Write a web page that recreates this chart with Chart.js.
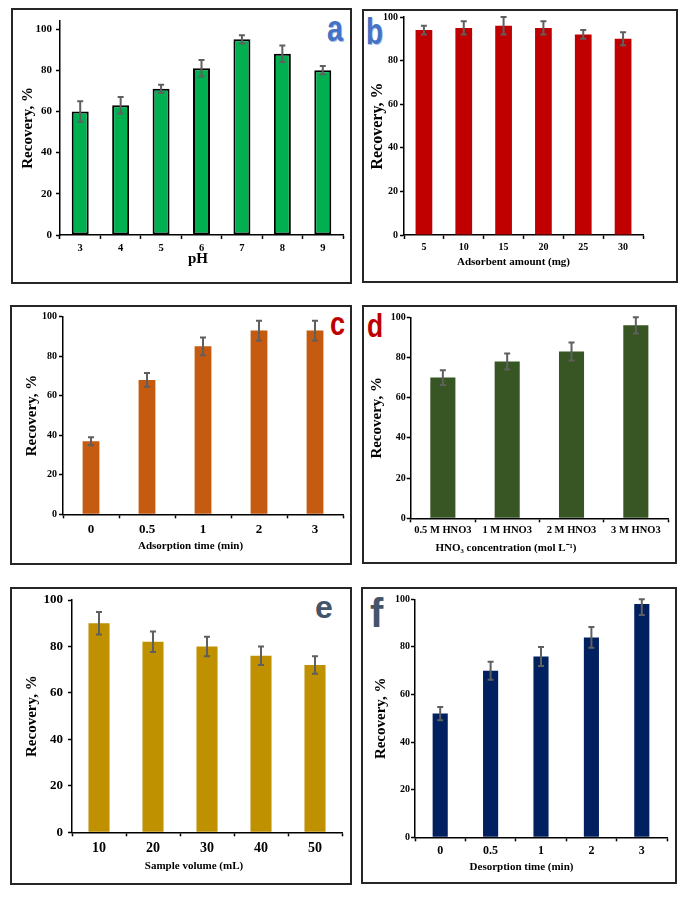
<!DOCTYPE html>
<html>
<head>
<meta charset="utf-8">
<title>Recovery optimisation</title>
<script src="https://cdn.jsdelivr.net/npm/chart.js@4.4.1/dist/chart.umd.min.js"></script>
<style>
    html, body { margin: 0; padding: 0; background: #fff; }
    body { position: relative; width: 690px; height: 898px; overflow: hidden; }
    canvas { position: absolute; }
    .tag {
        position: absolute;
        font-family: 'Liberation Sans', Arial, sans-serif;
        font-weight: bold;
        line-height: 1;
        transform-origin: 0 0;
        white-space: nowrap;
    }
</style>
</head>
<body>
<div class="tag" style="left:327px; top:11px; font-size:36px; color:#4472c4; transform:scaleX(0.8); text-shadow:1px 1px 0 #a9c0ea;">a</div>
<div class="tag" style="left:366px; top:13px; font-size:37px; color:#4472c4; transform:scaleX(0.75); text-shadow:1px 1px 0 #a9c0ea;">b</div>
<div class="tag" style="left:330px; top:307px; font-size:33px; color:#c00000; transform:scaleX(0.82);">c</div>
<div class="tag" style="left:367px; top:309px; font-size:33px; color:#c00000; transform:scaleX(0.8);">d</div>
<div class="tag" style="left:315px; top:591px; font-size:32px; color:#44546a;">e</div>
<div class="tag" style="left:370px; top:593px; font-size:40px; color:#44546a;">f</div>

<script>
// data (recovery %, error = half bar length)
const recoveryTicks = [0, 20, 40, 60, 80, 100];

const phLabels = ['3', '4', '5', '6', '7', '8', '9'];
const phRecovery = [60, 63, 71, 81, 95, 88, 80];
const phError = [5, 4, 2, 4, 2, 4, 2];

const amountLabels = ['5', '10', '15', '20', '25', '30'];
const amountRecovery = [94, 95, 96, 95, 92, 90];
const amountError = [2, 3, 4, 3, 2, 3];

const adsTimeLabels = ['0', '0.5', '1', '2', '3'];
const adsTimeRecovery = [37, 68, 85, 93, 93];
const adsTimeError = [2, 3.5, 4.5, 5, 5];

const acidLabels = ['0.5 M HNO3', '1 M HNO3', '2 M HNO3', '3 M HNO3'];
const acidRecovery = [70, 78, 83, 96];
const acidError = [3.7, 4, 4.5, 4];

const volumeLabels = ['10', '20', '30', '40', '50'];
const volumeRecovery = [90, 82, 80, 76, 72];
const volumeError = [4.8, 4.4, 4.2, 4, 3.8];

const desTimeLabels = ['0', '0.5', '1', '2', '3'];
const desTimeRecovery = [52, 70, 76, 84, 98];
const desTimeError = [2.8, 3.8, 4, 4.4, 4.6];

const serif = "'Liberation Serif', 'Times New Roman', serif";

// error bars drawn on top of the bars
const errorBarPlugin = {
    id: 'errorBars',
    afterDatasetsDraw(chart, args, opts) {
        const ctx = chart.ctx;
        const y = chart.scales.y;
        const values = chart.data.datasets[0].data;
        ctx.save();
        ctx.strokeStyle = '#5f5f5f';
        ctx.lineWidth = 2;
        chart.getDatasetMeta(0).data.forEach(function (bar, i) {
            const hi = y.getPixelForValue(Math.min(values[i] + opts.errors[i], y.max));
            const lo = y.getPixelForValue(values[i] - opts.errors[i]);
            ctx.beginPath();
            ctx.moveTo(bar.x, hi);
            ctx.lineTo(bar.x, lo);
            ctx.moveTo(bar.x - 3, hi);
            ctx.lineTo(bar.x + 3, hi);
            ctx.moveTo(bar.x - 3, lo);
            ctx.lineTo(bar.x + 3, lo);
            ctx.stroke();
        });
        ctx.restore();
    }
};

// x axis title, placed where the original has it
const xTitlePlugin = {
    id: 'xTitle',
    afterDraw(chart, args, opts) {
        const ctx = chart.ctx;
        ctx.save();
        ctx.fillStyle = '#000';
        ctx.font = 'bold ' + opts.size + 'px ' + serif;
        ctx.textAlign = 'center';
        ctx.textBaseline = 'middle';
        ctx.fillText(opts.text, opts.x, opts.y);
        ctx.restore();
    }
};

// panel frame
const framePlugin = {
    id: 'frame',
    afterDraw(chart) {
        const ctx = chart.ctx;
        ctx.save();
        ctx.strokeStyle = '#262626';
        ctx.lineWidth = 2;
        ctx.strokeRect(1, 1, chart.width - 2, chart.height - 2);
        ctx.restore();
    }
};

function drawPanel(p) {
    const canvas = document.createElement('canvas');
    canvas.width = p.box.w;
    canvas.height = p.box.h;
    canvas.style.left = p.box.x + 'px';
    canvas.style.top = p.box.y + 'px';
    document.body.appendChild(canvas);

    const axisWidth = p.plot.l - p.box.x;
    const axisHeight = p.box.y + p.box.h - p.plot.b;

    return new Chart(canvas, {
        type: 'bar',
        data: {
            labels: p.labels,
            datasets: [{
                data: p.values,
                backgroundColor: p.color,
                borderColor: p.edge || p.color,
                borderWidth: p.edge ? 2 : 0,
                borderSkipped: false,
                barPercentage: p.barPct,
                categoryPercentage: 1
            }]
        },
        options: {
            responsive: false,
            animation: false,
            events: [],
            layout: {
                padding: {
                    left: 0,
                    top: p.plot.t - p.box.y,
                    right: p.box.x + p.box.w - p.plot.r,
                    bottom: 0
                }
            },
            plugins: {
                legend: { display: false },
                tooltip: { enabled: false },
                errorBars: { errors: p.errors },
                xTitle: {
                    text: p.xTitle,
                    size: p.xTitleSize,
                    x: p.xTitleAt[0] - p.box.x,
                    y: p.xTitleAt[1] - p.box.y
                }
            },
            scales: {
                x: {
                    border: { color: '#000', width: 1.5 },
                    grid: {
                        offset: true,
                        drawOnChartArea: false,
                        tickLength: 4,
                        tickColor: '#000',
                        tickWidth: 1.5
                    },
                    ticks: {
                        color: '#000',
                        autoSkip: false,
                        maxRotation: 0,
                        padding: p.xPad,
                        font: { family: serif, weight: 'bold', size: p.xFont }
                    },
                    afterFit: function (scale) { scale.height = axisHeight; }
                },
                y: {
                    min: 0,
                    max: p.yMax,
                    border: { color: '#000', width: 1.5 },
                    grid: {
                        drawOnChartArea: false,
                        tickLength: 4,
                        tickColor: '#000',
                        tickWidth: 1.5
                    },
                    ticks: {
                        color: '#000',
                        padding: p.yPad,
                        font: { family: serif, weight: 'bold', size: p.yFont }
                    },
                    title: {
                        display: true,
                        text: 'Recovery, %',
                        color: '#000',
                        font: { family: serif, weight: 'bold', size: p.yTitleSize },
                        padding: { top: p.yTitleX - p.box.x - p.yTitleSize * 0.6, bottom: 0 }
                    },
                    afterBuildTicks: function (scale) {
                        scale.ticks = recoveryTicks.map(function (v) { return { value: v }; });
                    },
                    afterFit: function (scale) { scale.width = axisWidth; }
                }
            }
        },
        plugins: [errorBarPlugin, xTitlePlugin, framePlugin]
    });
}

// a: pH
drawPanel({
    box: { x: 11, y: 8, w: 341, h: 276 },
    plot: { l: 60, t: 20.8, r: 343, b: 235 },
    yMax: 104,
    labels: phLabels, values: phRecovery, errors: phError,
    color: '#00b050', edge: '#000', barPct: 0.42,
    xFont: 10.5, xPad: 3, yFont: 11, yPad: 4,
    yTitleSize: 15, yTitleX: 28,
    xTitle: 'pH', xTitleSize: 15, xTitleAt: [198, 259]
});

// b: adsorbent amount
drawPanel({
    box: { x: 362, y: 9, w: 316, h: 274 },
    plot: { l: 404, t: 17, r: 643, b: 235 },
    yMax: 100,
    labels: amountLabels, values: amountRecovery, errors: amountError,
    color: '#c00000', barPct: 0.42,
    xFont: 10, xPad: 2.5, yFont: 10, yPad: 2,
    yTitleSize: 16, yTitleX: 377.5,
    xTitle: 'Adsorbent amount (mg)', xTitleSize: 11, xTitleAt: [513.5, 262]
});

// c: adsorption time
drawPanel({
    box: { x: 10, y: 305, w: 342, h: 260 },
    plot: { l: 63, t: 316.7, r: 343, b: 514.3 },
    yMax: 100,
    labels: adsTimeLabels, values: adsTimeRecovery, errors: adsTimeError,
    color: '#c55a11', barPct: 0.3,
    xFont: 13, xPad: 3.4, yFont: 10, yPad: 2,
    yTitleSize: 15, yTitleX: 32.5,
    xTitle: 'Adsorption time (min)', xTitleSize: 11, xTitleAt: [190.5, 546]
});

// d: HNO3 concentration
drawPanel({
    box: { x: 362, y: 305, w: 315, h: 259 },
    plot: { l: 410.7, t: 317.3, r: 668, b: 518.3 },
    yMax: 100,
    labels: acidLabels, values: acidRecovery, errors: acidError,
    color: '#375623', barPct: 0.39,
    xFont: 10.5, xPad: 1.4, yFont: 10, yPad: 1,
    yTitleSize: 15, yTitleX: 377.5,
    xTitle: 'HNO\u2083 concentration (mol L\u207B\u00B9)', xTitleSize: 11, xTitleAt: [506, 548]
});

// e: sample volume
drawPanel({
    box: { x: 10, y: 587, w: 342, h: 298 },
    plot: { l: 72, t: 600, r: 342, b: 832.3 },
    yMax: 100,
    labels: volumeLabels, values: volumeRecovery, errors: volumeError,
    color: '#bf9000', barPct: 0.39,
    xFont: 14, xPad: 3.8, yFont: 13, yPad: 5,
    yTitleSize: 15, yTitleX: 32,
    xTitle: 'Sample volume (mL)', xTitleSize: 11, xTitleAt: [194, 866]
});

// f: desorption time
drawPanel({
    box: { x: 361, y: 587, w: 316, h: 297 },
    plot: { l: 415, t: 599.3, r: 667, b: 837.3 },
    yMax: 100,
    labels: desTimeLabels, values: desTimeRecovery, errors: desTimeError,
    color: '#002060', barPct: 0.3,
    xFont: 12, xPad: 2, yFont: 10, yPad: 1,
    yTitleSize: 15, yTitleX: 381,
    xTitle: 'Desorption time (min)', xTitleSize: 11, xTitleAt: [521.5, 867]
});
</script>
</body>
</html>
